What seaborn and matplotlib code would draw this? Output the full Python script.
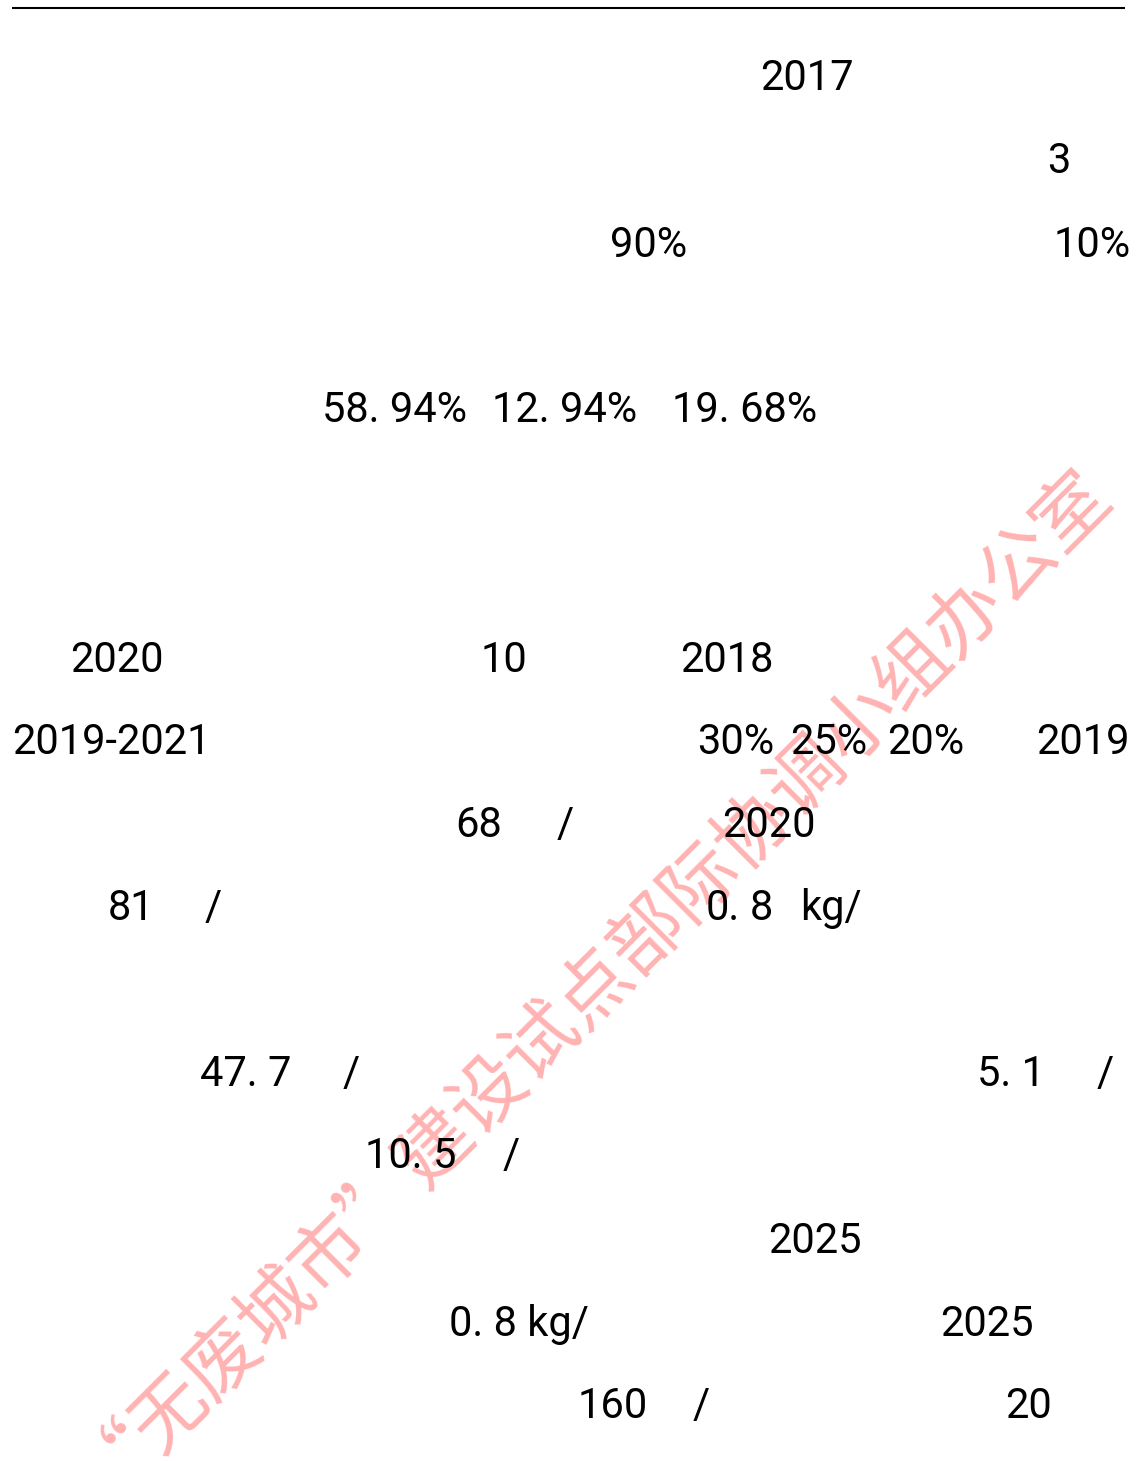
import matplotlib
matplotlib.use("Agg")
import matplotlib.pyplot as plt
import seaborn as sns

sns.set_theme(style="white")
plt.rcParams['font.family'] = ['Noto Sans CJK SC', 'DejaVu Sans']

# text fragments left on the page, one list per line of the page
row_2017 = ["2017"]
row_3 = ["3"]
row_share = ["90%", "10%"]
row_pct = ["58. 94%", "12. 94%", "19. 68%"]
row_2020 = ["2020", "10", "2018"]
row_plan = ["2019-2021", "30%", "25%", "20%", "2019"]
row_68 = ["68", "/", "2020"]
row_81 = ["81", "/", "0.", "8", "kg/"]
row_477 = ["47. 7", "/", "5. 1", "/"]
row_105 = ["10. 5", "/"]
row_2025 = ["2025"]
row_08 = ["0. 8 kg/", "2025"]
row_160 = ["160", "/", "20"]

watermark = "“无废城市”建设试点部际协调小组办公室"

rows = [row_2017, row_3, row_share, row_pct, row_2020, row_plan, row_68,
        row_81, row_477, row_105, row_2025, row_08, row_160]

# layout: baseline of each line (px from top) and left edge of each fragment
baselines = [90, 173, 257, 422, 672, 754, 837, 920, 1086, 1168, 1253, 1336, 1418]
lefts = [
    [760],
    [1047],
    [610, 1054],
    [322, 492, 672],
    [70, 481, 680],
    [12, 697, 790, 887, 1036],
    [455, 557, 722],
    [108, 205, 706, 750, 800],
    [200, 343, 977, 1097],
    [365, 503],
    [768],
    [449, 940],
    [578, 693, 1005],
]

W, H = 1137, 1461
fig = plt.figure(figsize=(W / 100, H / 100), dpi=100)
ax = fig.add_axes([0, 0, 1, 1])
ax.set_xlim(0, W)
ax.set_ylim(H, 0)
ax.axis('off')

# top rule of the page
ax.plot([12, 1125], [8, 8], color='black', lw=1.5, solid_capstyle='butt')

for texts, xs, y in zip(rows, lefts, baselines):
    for t, x in zip(texts, xs):
        ax.text(x, y, t, fontsize=30, family=['Roboto', 'DejaVu Sans'],
                fontweight='normal', color='black',
                ha='left', va='baseline', zorder=3)

# pink diagonal watermark
ax.text(582, 958, watermark, fontsize=54, color='#ffb3b3',
        rotation=45, rotation_mode='anchor', ha='center', va='center', zorder=2)

fig.savefig('out.png', dpi=100, facecolor='white')
